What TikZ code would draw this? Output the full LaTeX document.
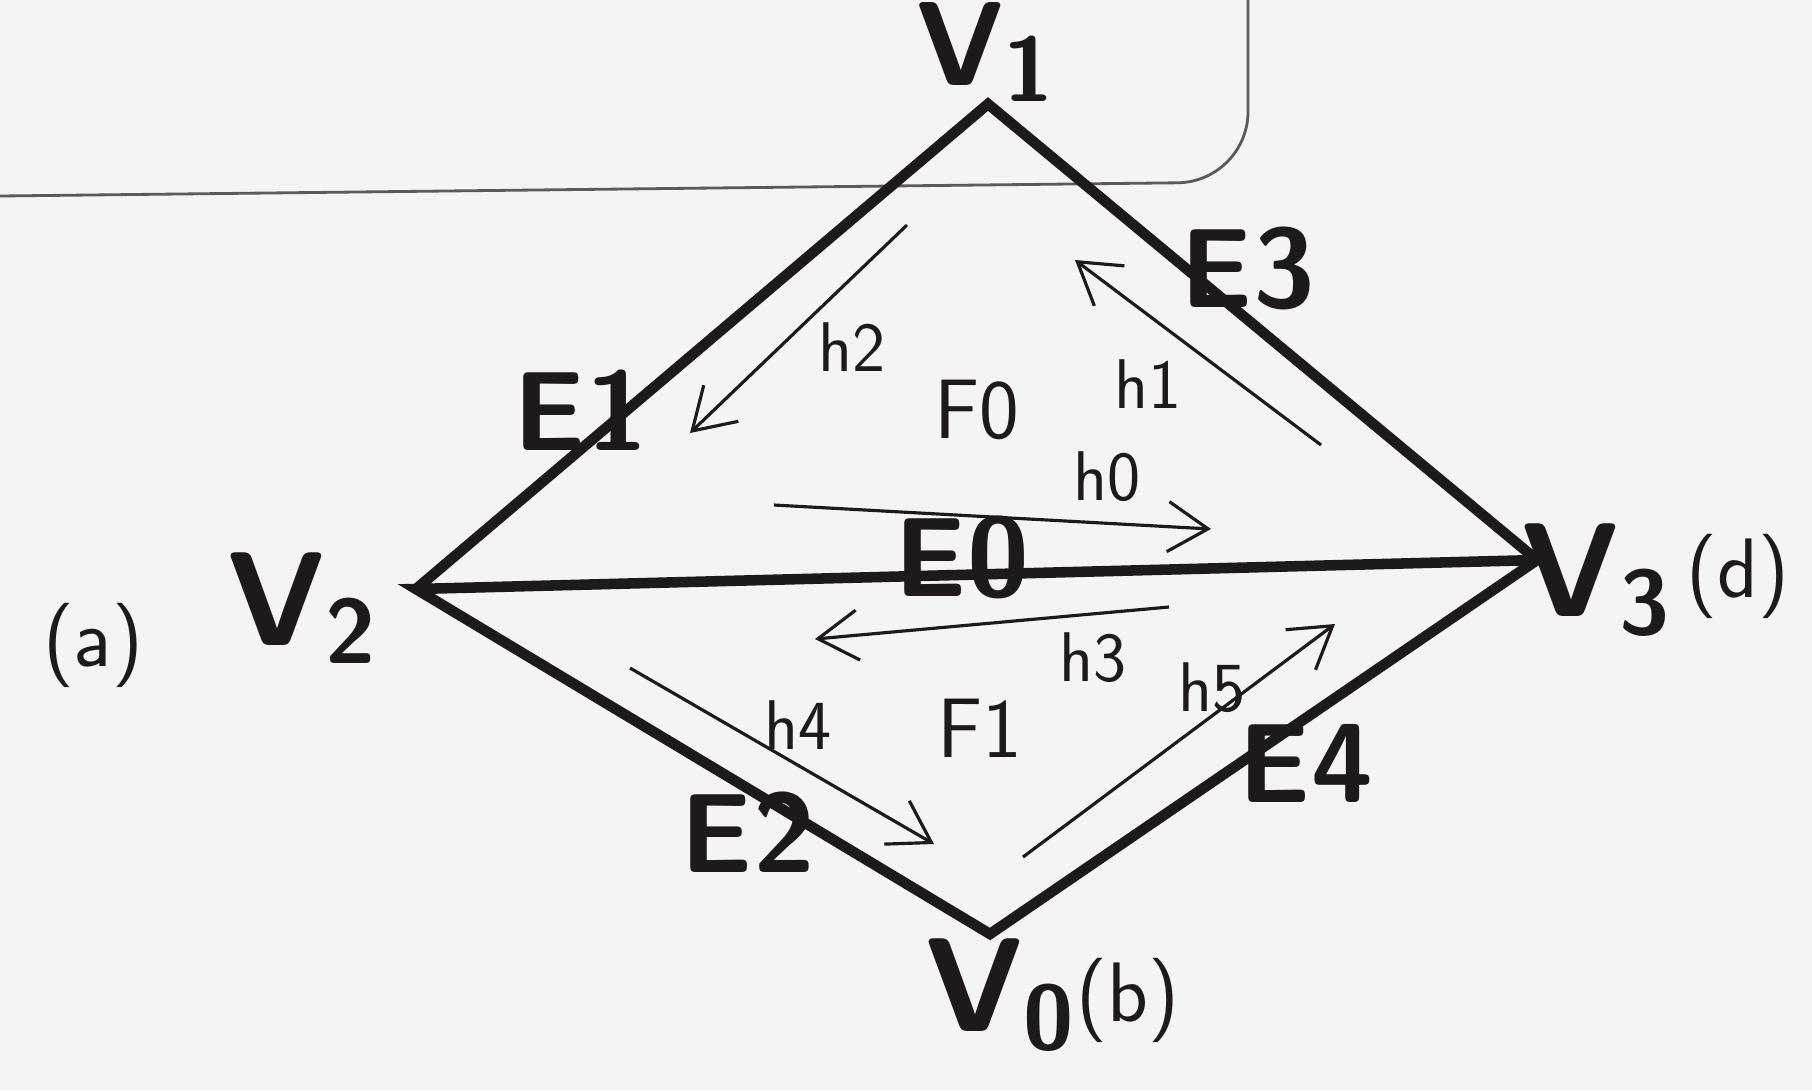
\documentclass[tikz,border=0pt]{standalone}
\usetikzlibrary{arrows.meta}
\definecolor{ink}{HTML}{1E1A19}
\definecolor{paper}{HTML}{F4F4F2}
\definecolor{frame}{HTML}{5A5A5A}
\newcommand{\vtx}[1]{V\raisebox{-0.3ex}{\fontsize{26}{26}\selectfont #1}}

\begin{document}
\begin{tikzpicture}[x=0.01cm,y=-0.01cm,font=\sffamily\bfseries,
  edge/.style={ink,line width=3pt,line cap=round},
  half/.style={ink,line width=0.9pt,-{Straight Barb[length=4mm,width=5mm]}},
  vlabel/.style={text=ink,font=\fontsize{38}{38}\sffamily\bfseries,inner sep=0pt},
  elabel/.style={text=ink,font=\fontsize{32}{32}\sffamily\bfseries,inner sep=0pt},
  hlabel/.style={text=ink,font=\fontsize{20}{20}\sffamily,inner sep=0pt},
  tag/.style={text=ink,font=\fontsize{24}{24}\sffamily,inner sep=0pt}]
  \fill[paper] (0,0) rectangle (1812,1090);
  \useasboundingbox (0,0) rectangle (1812,1090);
  % sheet edge
  \draw[frame,line width=0.8pt,rounded corners=20] (0,196) -- (1248,182) -- (1248,0);
  % vertices
  \coordinate (v1) at (988,104);
  \coordinate (v2) at (416,589);
  \coordinate (v3) at (1537,560);
  \coordinate (v0) at (990,934);
  % edges
  \draw[edge] (v2) -- (v1) -- (v3) -- (v0) -- (v2) -- (v3);
  % half edges
  \foreach \n/\s/\e in {h0/{774,505}/{1211,529},h1/{1321,445}/{1075,260},
                        h2/{907,225}/{690,433},h3/{1169,607}/{815,639},
                        h4/{630,668}/{934,844},h5/{1023,857}/{1335,624}}{
    \coordinate (\n s) at (\s);
    \coordinate (\n e) at (\e);
    \draw[half] (\n s) -- (\n e);
  }
  % vertex labels
  \node[vlabel,font=\fontsize{34}{34}\sffamily\bfseries] (lv1) at (985,52) {\vtx{1}};
  \node[vlabel] (lv2) at (302,608) {\vtx{2}};
  \node[vlabel] (lv3) at (1596,580) {\vtx{3}};
  \node[vlabel,anchor=west] (lv0) at (925,995) {\vtx{0}};
  \node[tag] (ta) at (93,645) {(a)};
  \node[tag] (td) at (1738,576) {(d)};
  \node[tag] (tb) at (1128,1000) {(b)};
  % edge labels
  \node[elabel] (le0) at (962,557) {E0};
  \node[elabel] (le1) at (581,410) {E1};
  \node[elabel] (le2) at (748,832) {E2};
  \node[elabel] (le3) at (1248,268) {E3};
  \node[elabel] (le4) at (1306,763) {E4};
  % faces and half edge labels
  \node[hlabel,font=\fontsize{24}{24}\sffamily] (f0) at (977,410) {F0};
  \node[hlabel,font=\fontsize{24}{24}\sffamily] (f1) at (980,728) {F1};
  \node[hlabel] (lh0) at (1107,477) {h0};
  \node[hlabel] (lh1) at (1148,384) {h1};
  \node[hlabel] (lh2) at (852,347) {h2};
  \node[hlabel] (lh3) at (1093,658) {h3};
  \node[hlabel] (lh4) at (798,725) {h4};
  \node[hlabel] (lh5) at (1212,688) {h5};
\end{tikzpicture}
\end{document}
